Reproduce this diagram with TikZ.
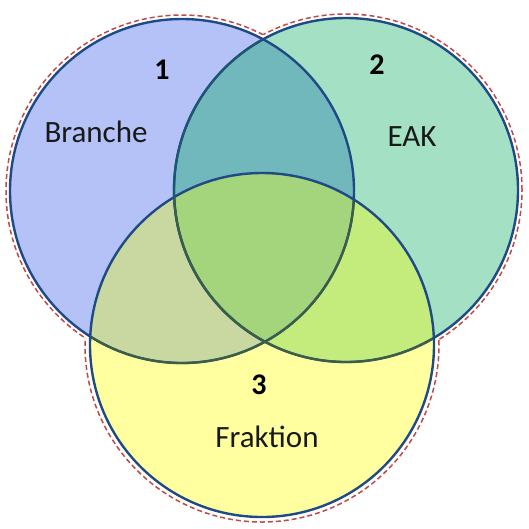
\documentclass[tikz,border=0pt]{standalone}
\usepackage{fontspec}
\setmainfont{Carlito}
\definecolor{cA}{HTML}{B4C2F8}
\definecolor{cB}{HTML}{A4E0C4}
\definecolor{cC}{HTML}{FFFFA0}
\definecolor{cAB}{HTML}{70B8BC}
\definecolor{cAC}{HTML}{C8D8A0}
\definecolor{cBC}{HTML}{C4EC7C}
\definecolor{cABC}{HTML}{A4D47C}
\definecolor{navy}{HTML}{1F4A85}
\definecolor{tealline}{HTML}{1E5570}
\definecolor{oliveline}{HTML}{3B5E45}
\definecolor{reddash}{HTML}{C04848}
\tikzset{
  outline/.style={draw=navy, line width=2.4pt},
  innerA/.style={draw=tealline, line width=2.2pt},
  innerB/.style={draw=oliveline, line width=2.2pt},
  union/.style={draw=reddash, line width=1.5pt, dash pattern=on 5pt off 3pt},
  word/.style={font=\fontsize{31}{34}\selectfont, text=black!90},
  num/.style={font=\fontsize{30}{33}\selectfont\bfseries, text=black}
}
\begin{document}
\begin{tikzpicture}[x=1pt,y=-1pt]
\useasboundingbox (0,0) rectangle (529,528);
\coordinate (c1) at (182,191);
\coordinate (c2) at (346,190);
\coordinate (c3) at (262,345);
% union outline (dashed, offset)
\begin{scope}[even odd rule]
  \clip (-10,-10) rectangle (540,540) (c2) circle[radius=176pt];
  \clip (-10,-10) rectangle (540,540) (c3) circle[radius=176pt];
  \draw[union] (c1) circle[radius=176pt];
\end{scope}
\begin{scope}[even odd rule]
  \clip (-10,-10) rectangle (540,540) (c1) circle[radius=176pt];
  \clip (-10,-10) rectangle (540,540) (c3) circle[radius=176pt];
  \draw[union] (c2) circle[radius=176pt];
\end{scope}
\begin{scope}[even odd rule]
  \clip (-10,-10) rectangle (540,540) (c1) circle[radius=176pt];
  \clip (-10,-10) rectangle (540,540) (c2) circle[radius=176pt];
  \draw[union] (c3) circle[radius=177pt];
\end{scope}
% fills
\fill[cA] (c1) circle[radius=172pt];
\fill[cB] (c2) circle[radius=172pt];
\fill[cC] (c3) circle[radius=172pt];
\begin{scope}\clip (c1) circle[radius=172pt]; \fill[cAB] (c2) circle[radius=172pt];\end{scope}
\begin{scope}\clip (c1) circle[radius=172pt]; \fill[cAC] (c3) circle[radius=172pt];\end{scope}
\begin{scope}\clip (c2) circle[radius=172pt]; \fill[cBC] (c3) circle[radius=172pt];\end{scope}
\begin{scope}\clip (c1) circle[radius=172pt]; \clip (c2) circle[radius=172pt]; \fill[cABC] (c3) circle[radius=172pt];\end{scope}
% outlines
\draw[outline] (c1) circle[radius=172pt];
\draw[outline] (c2) circle[radius=172pt];
\draw[outline] (c3) circle[radius=172pt];
\begin{scope}\clip (c1) circle[radius=170.8pt]; \draw[innerA] (c2) circle[radius=172pt];\end{scope}
\begin{scope}\clip (c3) circle[radius=170.8pt]; \draw[innerB] (c1) circle[radius=172pt]; \draw[innerB] (c2) circle[radius=172pt];\end{scope}
% labels
\node[num]  (n1) at (162,70) {1};
\node[num]  (n2) at (377,65) {2};
\node[num]  (n3) at (259,385) {3};
\node[word] (t1) at (96,132) {Branche};
\node[word] (t2) at (412,137) {EAK};
\node[word] (t3) at (267,437) {Fraktion};
\end{tikzpicture}
\end{document}
